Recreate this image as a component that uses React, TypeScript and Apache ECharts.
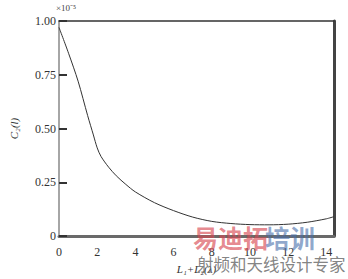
import React, { useEffect, useRef } from "react";
import * as echarts from "echarts";

const xValues = [0, 0.5, 1.0, 1.5, 1.8, 2.0, 2.2, 2.6, 3, 3.5, 4, 5, 6, 7, 8, 9, 10, 11, 12, 13, 14, 14.4];
const cValues = [0.97, 0.85, 0.72, 0.56, 0.47, 0.41, 0.37, 0.32, 0.28, 0.24, 0.205, 0.155, 0.118, 0.088, 0.068, 0.058, 0.053, 0.052, 0.055, 0.064, 0.08, 0.09];
const yTickLabels = ["0", "0.25", "0.50", "0.75", "1.00"];

export default function App() {
  const ref = useRef<HTMLDivElement>(null);
  useEffect(() => {
    const chart = echarts.init(ref.current!, null, { renderer: "svg" });
    const font = "Liberation Serif";
    chart.setOption({
      animation: false,
      backgroundColor: "#fff",
      grid: { left: 54, right: 14, top: 21, bottom: 35 },
      xAxis: [
        {
          type: "value",
          min: 0,
          max: 14.4,
          interval: 2,
          axisLine: { show: true, onZero: false, lineStyle: { color: "#6a6a6a", width: 3 } },
          axisTick: { show: false },
          splitLine: { show: false },
          axisLabel: { color: "#333", fontFamily: font, fontSize: 12, margin: 10, showMaxLabel: false },
          name: "L\u2081+L\u2082(\u03bb)",
          nameLocation: "middle",
          nameGap: 27,
          nameTextStyle: { color: "#333", fontFamily: font, fontStyle: "italic", fontSize: 11 },
        },
        {
          type: "value",
          position: "top",
          min: 0,
          max: 14.4,
          axisLine: { show: true, onZero: false, lineStyle: { color: "#333", width: 1.5 } },
          axisTick: { show: false },
          axisLabel: { show: false },
          splitLine: { show: false },
        },
      ],
      yAxis: [
        {
          type: "value",
          min: 0,
          max: 1,
          interval: 0.25,
          axisLine: { show: true, onZero: false, lineStyle: { color: "#888", width: 1.5 } },
          axisTick: { show: true, inside: true, length: 8, lineStyle: { color: "#333", width: 2 } },
          splitLine: { show: false },
          axisLabel: {
            color: "#333",
            fontFamily: font,
            fontSize: 12,
            margin: 3,
            formatter: (v: number) => yTickLabels[Math.round(v / 0.25)],
          },
          name: "C\u2082(l)",
          nameLocation: "middle",
          nameGap: 40,
          nameTextStyle: { color: "#333", fontFamily: font, fontStyle: "italic", fontSize: 11 },
        },
        {
          type: "value",
          position: "right",
          min: 0,
          max: 1,
          axisLine: { show: true, onZero: false, lineStyle: { color: "#444", width: 3 } },
          axisTick: { show: false },
          axisLabel: { show: false },
          splitLine: { show: false },
        },
      ],
      graphic: [
        {
          type: "text",
          left: 56,
          top: 3,
          style: { text: "\u00d710\u207b\u2075", fill: "#444", font: "9px 'Liberation Serif'" },
        },
        {
          type: "text",
          left: 193,
          top: 224,
          z: 100,
          style: { text: "\u6613\u8fea\u62d3", fill: "rgba(215,70,80,0.65)", font: "bold 25px 'Noto Sans CJK SC'" },
        },
        {
          type: "text",
          left: 265,
          top: 224,
          z: 100,
          style: { text: "\u57f9\u8bad", fill: "rgba(70,110,170,0.6)", font: "bold 25px 'Noto Sans CJK SC'" },
        },
        {
          type: "text",
          left: 197,
          top: 256,
          z: 100,
          style: { text: "\u5c04\u9891\u548c\u5929\u7ebf\u8bbe\u8ba1\u4e13\u5bb6", fill: "rgba(100,100,100,0.8)", font: "16.5px 'Noto Sans CJK SC'" },
        },
      ],
      series: [
        {
          type: "line",
          xAxisIndex: 0,
          yAxisIndex: 0,
          data: xValues.map((x, i) => [x, cValues[i]]),
          showSymbol: false,
          smooth: 0.3,
          lineStyle: { color: "#333", width: 1 },
        },
      ],
    });
    return () => chart.dispose();
  }, []);
  return <div ref={ref} style={{ position: "absolute", left: 0, top: 0, width: 348, height: 279 }} />;
}
